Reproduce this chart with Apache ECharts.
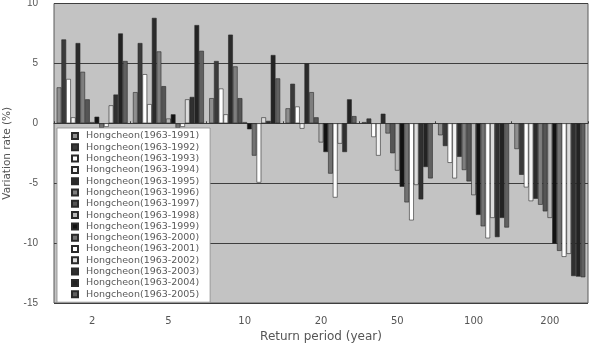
<!DOCTYPE html>
<html>
<head>
<meta charset="utf-8">
<script src="https://cdn.jsdelivr.net/npm/echarts@6/dist/echarts.min.js"></script>
<style>
html,body{margin:0;padding:0;background:#fff;}
#chart{width:591px;height:344px;}
</style>
</head>
<body>
<div id="chart"></div>
<script>
// Categories (return period, years) and y ticks
const categories = ['2', '5', '10', '20', '50', '100', '200'];
const yTicks = [-15, -10, -5, 0, 5, 10];

// Series names
const seriesNames = [
  'Hongcheon(1963-1991)', 'Hongcheon(1963-1992)', 'Hongcheon(1963-1993)',
  'Hongcheon(1963-1994)', 'Hongcheon(1963-1995)', 'Hongcheon(1963-1996)',
  'Hongcheon(1963-1997)', 'Hongcheon(1963-1998)', 'Hongcheon(1963-1999)',
  'Hongcheon(1963-2000)', 'Hongcheon(1963-2001)', 'Hongcheon(1963-2002)',
  'Hongcheon(1963-2003)', 'Hongcheon(1963-2004)', 'Hongcheon(1963-2005)'
];

// Variation rate (%) per series, one value per category
const s1991 = [3.0, 2.6, 2.1, 1.25, 0.1, -1.0, -2.15];
const s1992 = [7.0, 6.7, 5.2, 3.3, 0.4, -1.9, -4.3];
const s1993 = [3.7, 4.1, 2.9, 1.4, -1.15, -3.3, -5.35];
const s1994 = [0.5, 1.6, 0.75, -0.45, -2.7, -4.6, -6.5];
const s1995 = [6.7, 8.8, 7.4, 5.0, 0.8, -2.8, -6.3];
const s1996 = [4.3, 6.0, 4.75, 2.6, -0.85, -3.9, -6.8];
const s1997 = [2.0, 3.1, 2.1, 0.5, -2.5, -4.85, -7.35];
const s1998 = [0.1, 0.4, 0.1, -1.6, -3.95, -6.0, -7.9];
const s1999 = [0.55, 0.75, -0.5, -2.4, -5.3, -7.65, -10.05];
const s2000 = [-0.4, -0.4, -2.7, -4.2, -6.6, -8.6, -10.65];
const s2001 = [-0.3, -0.3, -4.95, -6.2, -8.1, -9.6, -11.15];
const s2002 = [1.5, 2.0, 0.5, -1.7, -5.15, -7.9, -10.9];
const s2003 = [2.4, 2.2, 0.2, -2.4, -6.35, -9.5, -12.75];
const s2004 = [7.5, 8.2, 5.7, 2.0, -3.65, -7.9, -12.8];
const s2005 = [5.2, 6.05, 3.75, 0.6, -4.6, -8.7, -12.85];

const seriesValues = [s1991, s1992, s1993, s1994, s1995, s1996, s1997, s1998,
  s1999, s2000, s2001, s2002, s2003, s2004, s2005];

const seriesColors = ['#8e8e8e', '#3a3a3a', '#ffffff', '#f2f2f2', '#2b2b2b',
  '#7e7e7e', '#555555', '#b8b8b8', '#121212', '#727272', '#ffffff', '#dcdcdc',
  '#303030', '#232323', '#606060'];

const chart = echarts.init(document.getElementById('chart'));

const series = seriesNames.map((name, i) => ({
  name: name, type: 'bar', xAxisIndex: 0, yAxisIndex: 0, data: seriesValues[i],
  barGap: '0%', barCategoryGap: '7%',
  itemStyle: {color: seriesColors[i], borderColor: '#2a2a2a', borderWidth: 0.6},
  emphasis: {disabled: true}
}));

chart.setOption({
  animation: false,
  grid: {
    left: 54, right: 3, top: 3.5, bottom: 41,
    containLabel: false, outerBoundsMode: 'none',
    show: true, backgroundColor: '#c3c3c3', borderColor: '#5a5a5a', borderWidth: 1
  },
  legend: {
    data: seriesNames, orient: 'vertical', left: 57, top: 128,
    padding: [3, 11, 3, 14], itemWidth: 6, itemHeight: 6, itemGap: 1.3,
    backgroundColor: '#ffffff', borderColor: '#8a8a8a', borderWidth: 0.8,
    icon: 'rect', selectedMode: false,
    textStyle: {fontFamily: 'DejaVu Sans', fontSize: 9.5, color: '#5a5a5a', lineHeight: 10, padding: [0, 0, 0, 3]}
  },
  xAxis: [{
    type: 'category', data: categories, position: 'bottom',
    axisLine: {onZero: true, lineStyle: {color: '#3a3a3a'}},
    axisTick: {show: true, length: 2, inside: true, lineStyle: {color: '#3a3a3a'}},
    axisLabel: {show: false}
  }, {
    type: 'category', data: categories, position: 'bottom',
    axisLine: {show: false, onZero: false}, axisTick: {show: false},
    axisLabel: {fontFamily: 'DejaVu Sans', fontSize: 10, color: '#555', margin: 13},
    name: 'Return period (year)', nameLocation: 'middle', nameGap: 27,
    nameTextStyle: {fontFamily: 'DejaVu Sans', fontSize: 12, color: '#555'}
  }],
  yAxis: {
    type: 'value', min: yTicks[0], max: yTicks[yTicks.length - 1], interval: 5,
    axisLine: {show: false}, axisTick: {show: false},
    axisLabel: {fontFamily: 'Liberation Sans', fontSize: 10, color: '#555', margin: 16},
    splitLine: {show: true, lineStyle: {color: '#3e3e3e', width: 1}},
    name: 'Variation rate (%)', nameLocation: 'middle', nameGap: 41,
    nameTextStyle: {fontFamily: 'DejaVu Sans', fontSize: 10.5, color: '#555'}
  },
  series: series
});
</script>
</body>
</html>
